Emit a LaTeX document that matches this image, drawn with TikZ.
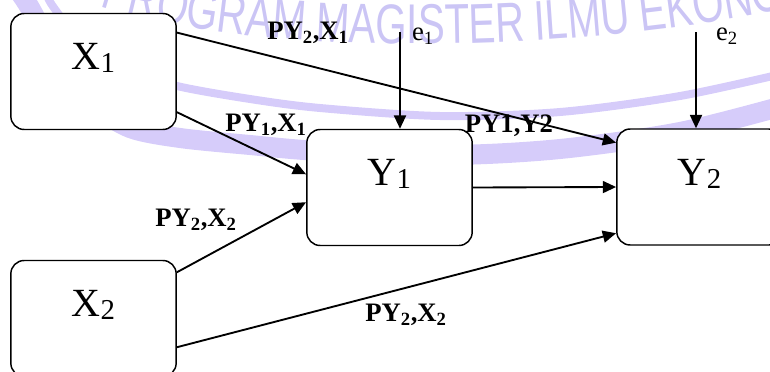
\documentclass[tikz,border=0pt]{standalone}
\usepackage{fontspec}
\setmainfont{Liberation Serif}
\newfontfamily\wmfont{Liberation Sans}[FakeStretch=0.72, WordSpace=0.9]
\usepackage{graphicx}
\usepackage{tikz}
\usetikzlibrary{arrows.meta}
\usetikzlibrary{decorations.text}
\definecolor{wmband}{RGB}{214,204,250}
\definecolor{wmtext}{RGB}{203,197,245}
\newcommand{\sbx}[1]{\raisebox{-0.07em}{\scalebox{0.72}{#1}}}

\begin{document}
\begin{tikzpicture}[x=0.75pt,y=0.75pt,yscale=-1,xscale=1,
  box/.style={draw, line width=1.1pt, rounded corners=10pt, fill=white, minimum width=124pt, minimum height=87pt, inner sep=0pt, font=\fontsize{30}{30}\selectfont, text depth=22pt},
  link/.style={line width=1.4pt, -{Triangle[length=10pt,width=9pt]}},
  coef/.style={inner sep=0.75pt, font=\fontsize{20}{20}\selectfont\bfseries},
  err/.style={inner sep=0.75pt, font=\fontsize{20}{20}\selectfont}]
\useasboundingbox (0,0) rectangle (770,371);
% watermark
\draw [color=wmband, line width=15pt] plot [smooth] coordinates {(18,-10) (30,8) (60,62) (95,105) (130,128) (180,138) (250,145) (320,151) (450,155) (560,149) (680,132) (790,104)};
\draw [color=wmband, line width=6pt] plot [smooth] coordinates {(45,-10) (52,5) (80,40) (120,68) (177,86) (250,99) (320,108) (440,116) (560,112) (680,96) (790,72)};
\begin{scope}[yscale=-1]
\path [decorate, decoration={text along path, text color=wmtext, text={|\wmfont\fontsize{42}{42}\selectfont|PROGRAM MAGISTER ILMU EKONOMI}}] (100,-6) .. controls (245,-55) and (555,-58) .. (800,-6);
\end{scope}
% variables
\node [box] (X1) at (93.5,71.5) {X\sbx{1}};
\node [box] (X2) at (93.5,318.5) {X\sbx{2}};
\node [box] (Y1) at (389.5,187.5) {Y\sbx{1}};
\node [box] (Y2) at (699.5,187) {Y\sbx{2}};
\coordinate (e1s) at (400,32);
\coordinate (e2s) at (696,32);
% paths
\draw [link] (X1.25) -- (Y2.152);
\draw [link] (X1.-26) -- (Y1.171);
\draw [link] (X2.29) -- (Y1.190);
\draw [link] (X2.-19.5) -- (Y2.209);
\draw [link] (Y1.east) -- (Y2.west);
\draw [link] (e1s) -- (e1s |- Y1.north);
\draw [link] (e2s) -- (e2s |- Y2.north);
% labels
\node [coef] (b21) at (308,33) {PY\textsubscript{2},X\textsubscript{1}};
\node [coef] (b11) at (266,125) {PY\textsubscript{1},X\textsubscript{1}};
\node [coef] (b12) at (509,126) {PY1,Y2};
\node [coef] (b22a) at (196,220) {PY\textsubscript{2},X\textsubscript{2}};
\node [coef] (b22b) at (406,315) {PY\textsubscript{2},X\textsubscript{2}};
\node [err] (e1) at (423,36) {e\textsubscript{1}};
\node [err] (e2) at (727,36) {e\textsubscript{2}};
\end{tikzpicture}
\end{document}
